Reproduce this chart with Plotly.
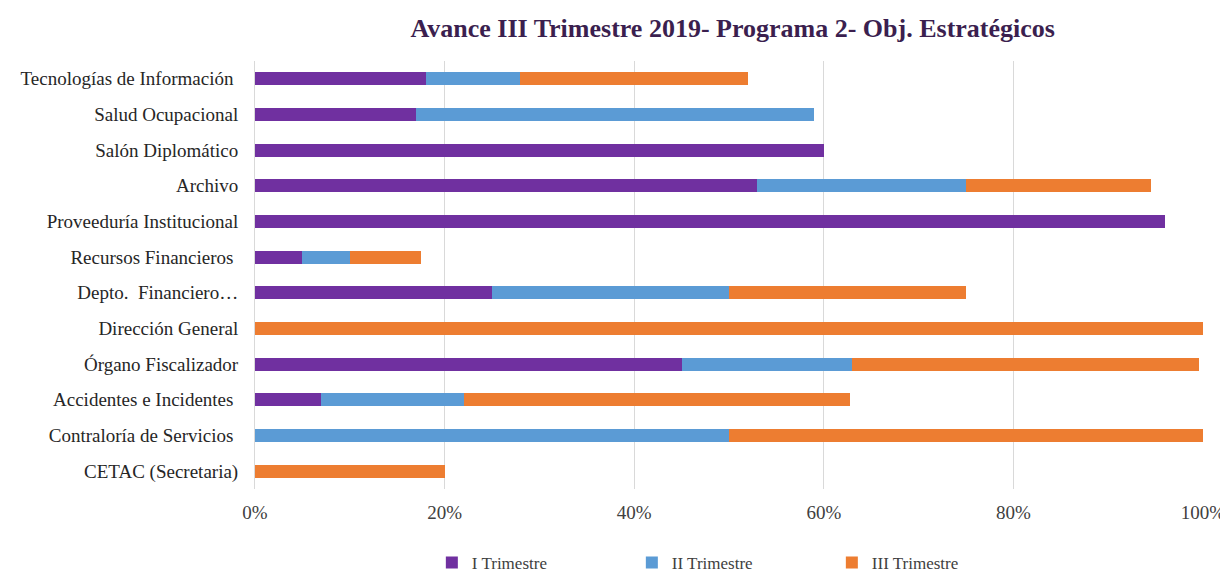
import plotly.graph_objects as go

categories = [
    "Tecnologías de Información ",
    "Salud Ocupacional",
    "Salón Diplomático",
    "Archivo",
    "Proveeduría Institucional",
    "Recursos Financieros ",
    "Depto.  Financiero…",
    "Dirección General",
    "Órgano Fiscalizador",
    "Accidentes e Incidentes ",
    "Contraloría de Servicios ",
    "CETAC (Secretaria)",
]
t1 = [0.18, 0.17, 0.60, 0.53, 0.96, 0.05, 0.25, 0.0, 0.45, 0.07, 0.0, 0.0]
t2 = [0.10, 0.42, 0.0, 0.22, 0.0, 0.05, 0.25, 0.0, 0.18, 0.15, 0.50, 0.0]
t3 = [0.24, 0.0, 0.0, 0.195, 0.0, 0.075, 0.25, 1.0, 0.366, 0.408, 0.50, 0.20]
series_names = ["I Trimestre", "II Trimestre", "III Trimestre"]
colors = ["#7030A0", "#5B9BD5", "#ED7D31"]

fig = go.Figure()
for name, vals, col in zip(series_names, [t1, t2, t3], colors):
    fig.add_trace(go.Bar(
        y=categories, x=vals, name=name, orientation="h",
        marker=dict(color=col, line=dict(width=0)),
    ))

FONT = "Liberation Serif, Times New Roman, serif"
fig.update_layout(
    barmode="stack",
    bargap=0.63,
    width=1220, height=564,
    margin=dict(l=247, r=25, t=53, b=83, autoexpand=False),
    paper_bgcolor="white", plot_bgcolor="white",
    font=dict(family=FONT, size=19, color="#404040"),
    title=dict(text="<b>Avance III Trimestre 2019- Programa 2- Obj. Estratégicos</b>",
               x=0.594, xanchor="center", y=0.9645, yanchor="middle",
               font=dict(family=FONT, size=26, color="#3B1F4F")),
    xaxis=dict(range=[0, 1], tickformat=".0%", dtick=0.2, showgrid=True,
               gridcolor="#D9D9D9", gridwidth=1, zeroline=False,
               tickfont=dict(size=19, color="#404040"), ticks="", ticklabelstandoff=10),
    yaxis=dict(autorange="reversed", showline=True, linecolor="#D9D9D9", linewidth=1,
               ticks="", tickfont=dict(size=19, color="#262626"), ticklabelstandoff=12),
    legend=dict(orientation="h", x=0.503, xanchor="center", y=-0.173, yanchor="middle",
                font=dict(size=17, color="#404040"), entrywidth=155, itemwidth=30,
                traceorder="normal"),
)
fig.write_html("out.html")
